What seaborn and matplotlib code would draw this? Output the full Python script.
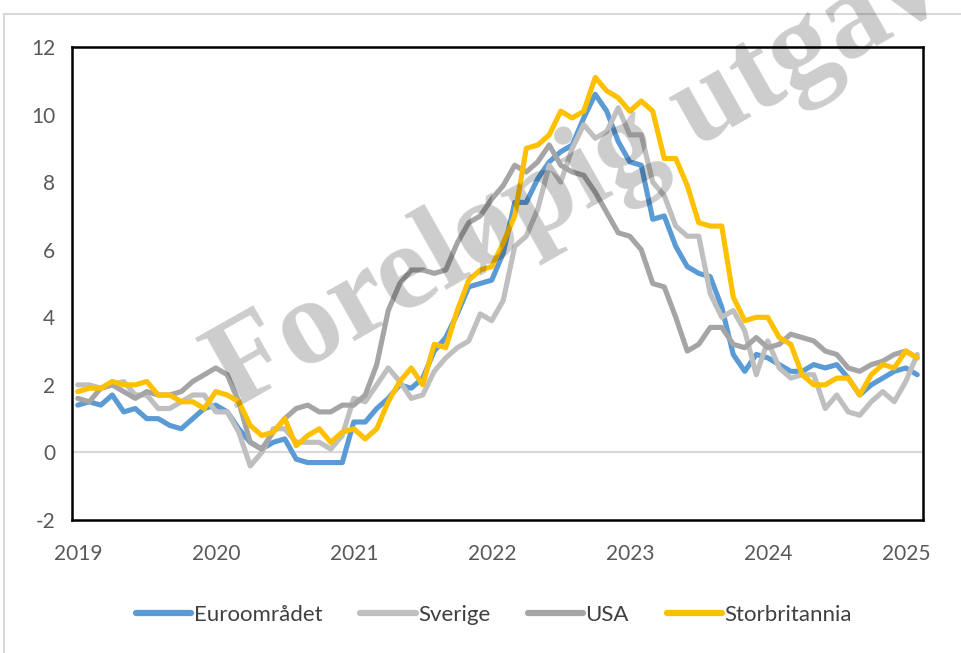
import numpy as np
import pandas as pd
import matplotlib
matplotlib.use("Agg")
import matplotlib.pyplot as plt
import seaborn as sns
from matplotlib.lines import Line2D

# Monthly data, Jan 2019 - Feb 2025 (annual % change)
euro = [1.4, 1.5, 1.4, 1.7, 1.2, 1.3, 1.0, 1.0, 0.8, 0.7, 1.0, 1.3,
        1.4, 1.2, 0.7, 0.3, 0.1, 0.3, 0.4, -0.2, -0.3, -0.3, -0.3, -0.3,
        0.9, 0.9, 1.3, 1.6, 2.0, 1.9, 2.2, 3.0, 3.4, 4.1, 4.9, 5.0,
        5.1, 5.9, 7.4, 7.4, 8.1, 8.6, 8.9, 9.1, 9.9, 10.6, 10.1, 9.2,
        8.6, 8.5, 6.9, 7.0, 6.1, 5.5, 5.3, 5.2, 4.3, 2.9, 2.4, 2.9,
        2.8, 2.6, 2.4, 2.4, 2.6, 2.5, 2.6, 2.2, 1.7, 2.0, 2.2, 2.4,
        2.5, 2.3]
sverige = [2.0, 2.0, 1.9, 2.0, 2.1, 1.7, 1.7, 1.3, 1.3, 1.5, 1.7, 1.7,
           1.2, 1.2, 0.6, -0.4, 0.0, 0.7, 0.7, 0.3, 0.3, 0.3, 0.1, 0.5,
           1.6, 1.5, 2.0, 2.5, 2.1, 1.6, 1.7, 2.4, 2.8, 3.1, 3.3, 4.1,
           3.9, 4.5, 6.1, 6.4, 7.2, 8.5, 8.0, 9.0, 9.7, 9.3, 9.5, 10.2,
           9.4, 9.4, 8.0, 7.6, 6.7, 6.4, 6.4, 4.7, 4.0, 4.2, 3.6, 2.3,
           3.3, 2.5, 2.2, 2.3, 2.3, 1.3, 1.7, 1.2, 1.1, 1.5, 1.8, 1.5,
           2.1, 2.9]
usa = [1.6, 1.5, 1.9, 2.0, 1.8, 1.6, 1.8, 1.7, 1.7, 1.8, 2.1, 2.3,
       2.5, 2.3, 1.5, 0.3, 0.1, 0.6, 1.0, 1.3, 1.4, 1.2, 1.2, 1.4,
       1.4, 1.7, 2.6, 4.2, 5.0, 5.4, 5.4, 5.3, 5.4, 6.2, 6.8, 7.0,
       7.5, 7.9, 8.5, 8.3, 8.6, 9.1, 8.5, 8.3, 8.2, 7.7, 7.1, 6.5,
       6.4, 6.0, 5.0, 4.9, 4.0, 3.0, 3.2, 3.7, 3.7, 3.2, 3.1, 3.4,
       3.1, 3.2, 3.5, 3.4, 3.3, 3.0, 2.9, 2.5, 2.4, 2.6, 2.7, 2.9,
       3.0, 2.8]
storbritannia = [1.8, 1.9, 1.9, 2.1, 2.0, 2.0, 2.1, 1.7, 1.7, 1.5, 1.5, 1.3,
                 1.8, 1.7, 1.5, 0.8, 0.5, 0.6, 1.0, 0.2, 0.5, 0.7, 0.3, 0.6,
                 0.7, 0.4, 0.7, 1.5, 2.1, 2.5, 2.0, 3.2, 3.1, 4.2, 5.1, 5.4,
                 5.5, 6.2, 7.0, 9.0, 9.1, 9.4, 10.1, 9.9, 10.1, 11.1, 10.7, 10.5,
                 10.1, 10.4, 10.1, 8.7, 8.7, 7.9, 6.8, 6.7, 6.7, 4.6, 3.9, 4.0,
                 4.0, 3.4, 3.2, 2.3, 2.0, 2.0, 2.2, 2.2, 1.7, 2.3, 2.6, 2.5,
                 3.0, 2.8]
series_names = ["Euroområdet", "Sverige", "USA", "Storbritannia"]
series_colors = ["#5B9BD5", "#BFBFBF", "#A5A5A5", "#FFC000"]
year_ticks = [2019, 2020, 2021, 2022, 2023, 2024, 2025]
y_ticks = [-2, 0, 2, 4, 6, 8, 10, 12]

n = len(euro)
t = 2019 + np.arange(n) / 12.0
df = pd.concat([
    pd.DataFrame({"t": t, "v": vals, "serie": name})
    for name, vals in zip(series_names, [euro, sverige, usa, storbritannia])
], ignore_index=True)

sns.set_style("white")
plt.rcParams["font.family"] = ["Lato", "DejaVu Sans"]

fig = plt.figure(figsize=(9.62, 6.53), dpi=100)
ax = fig.add_axes([72/962, 1-520/653, (923-72)/962, (520-47)/653])

ax.axhline(0, color="#D9D9D9", lw=1.6, zorder=1)
sns.lineplot(data=df, x="t", y="v", hue="serie", hue_order=series_names,
             palette=series_colors, linewidth=3.7, ax=ax, legend=False,
             zorder=3)

ax.set_xlim(2019 - 0.5/12, 2019 + (n - 0.5)/12)
ax.set_ylim(-2, 12)
ax.set_xticks(year_ticks)
ax.set_xticklabels([str(y) for y in year_ticks])
ax.set_yticks(y_ticks)
ax.set_yticklabels([str(y) for y in y_ticks])
ax.set_xlabel("")
ax.set_ylabel("")
ax.tick_params(axis="y", direction="in", length=7, width=1.8, colors="black",
               labelcolor="#595959", labelsize=15, pad=12)
ax.tick_params(axis="x", length=0, labelcolor="#595959", labelsize=15, pad=17)
for s in ax.spines.values():
    s.set_visible(True)
    s.set_color("black")
    s.set_linewidth(1.8)

handles = [Line2D([0], [0], color=c, lw=4.5, solid_capstyle="round") for c in series_colors]
fig.legend(handles, series_names, loc="center", bbox_to_anchor=(494/962, 1-615/653),
           ncol=4, frameon=False, fontsize=16, handlelength=2.5, handletextpad=0.1,
           columnspacing=1.7, labelcolor="#404040")

# outer frame lines
fig.add_artist(Line2D([4/962, 4/962], [0, 1-14/653], transform=fig.transFigure,
                      color="#D9D9D9", lw=1.5))
fig.add_artist(Line2D([4/962, 1], [1-14/653, 1-14/653], transform=fig.transFigure,
                      color="#D9D9D9", lw=1.5))

# watermark
fig.text(234/962, 1-410/653, "Foreløpig utgave", family=["Liberation Serif", "DejaVu Serif"],
         weight="bold", fontsize=88, color="black", alpha=0.2, rotation=29.5,
         rotation_mode="anchor", ha="left", va="baseline", zorder=10)

fig.savefig("out.png", dpi=100)
